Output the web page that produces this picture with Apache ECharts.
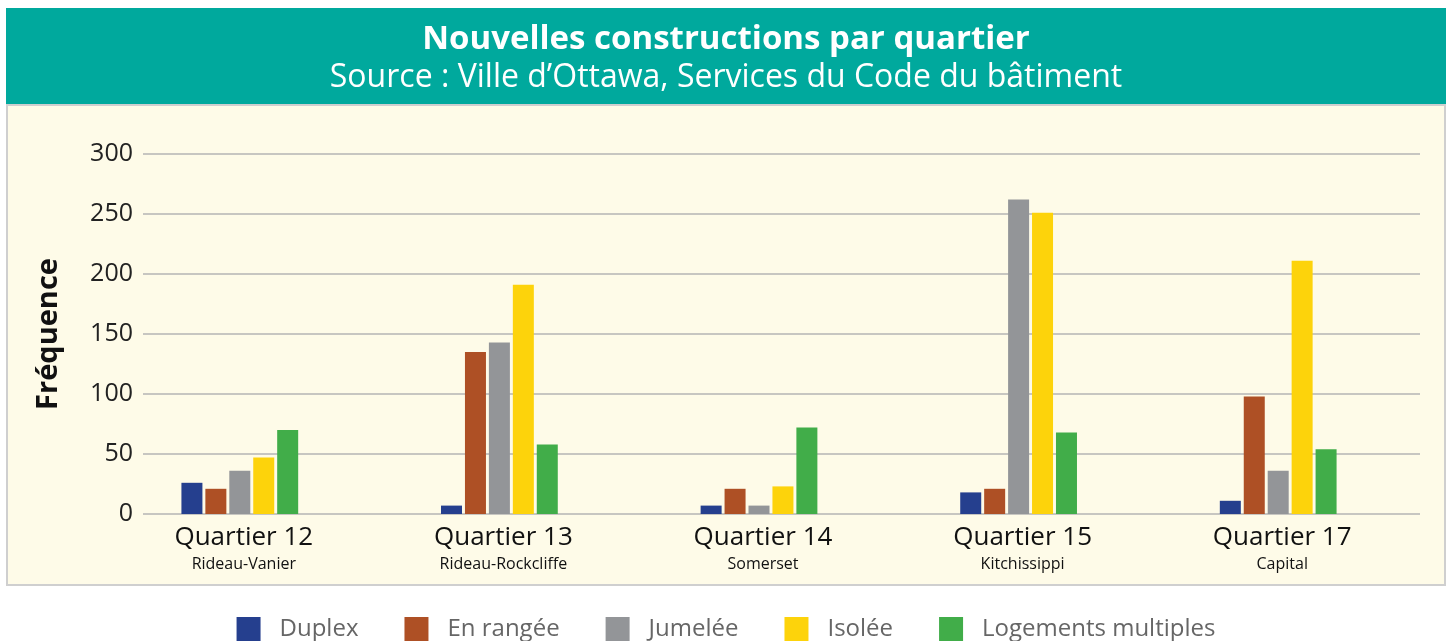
<!DOCTYPE html>
<html>
<head>
<meta charset="utf-8">
<script src="https://cdn.jsdelivr.net/npm/echarts@6/dist/echarts.min.js"></script>
<style>
  html, body { margin: 0; padding: 0; background: #fff; }
  #chart { width: 1452px; height: 641px; }
</style>
</head>
<body>
<div id="chart"></div>
<script>
// Quartiers
const quartiers = ['Quartier 12', 'Quartier 13', 'Quartier 14', 'Quartier 15', 'Quartier 17']
const quartierNoms = ['Rideau-Vanier', 'Rideau-Rockcliffe', 'Somerset', 'Kitchissippi', 'Capital']

// Valeurs
const duplex = [26, 7, 7, 18, 11]
const enRangee = [21, 135, 21, 21, 98]
const jumelee = [36, 143, 7, 262, 36]
const isolee = [47, 191, 23, 251, 211]
const logementsMultiples = [70, 58, 72, 68, 54]

const yTicks = [0, 50, 100, 150, 200, 250, 300]

const fontFamily = '"Open Sans", "Noto Sans", sans-serif'
const colors = ['#253F8E', '#AE5025', '#939598', '#FDD30B', '#41AD49']

const chart = echarts.init(document.getElementById('chart'))

function barSerie (name, data) {
  return {
    type: 'bar',
    name: name,
    xAxisIndex: 1,
    yAxisIndex: 1,
    barWidth: 21,
    barGap: '14%',
    data: data
  }
}

chart.setOption({
  animation: false,
  color: colors,
  textStyle: { fontFamily: fontFamily },
  graphic: [
    // bandeau du titre
    {
      type: 'rect',
      z: -10,
      shape: { x: 6, y: 8, width: 1440, height: 97 },
      style: { fill: '#00A99D' }
    },
    // fond du graphique
    {
      type: 'rect',
      z: -10,
      shape: { x: 7, y: 105, width: 1438, height: 480 },
      style: { fill: '#FEFBE8', stroke: '#CFCFCF', lineWidth: 2 }
    }
  ],
  title: [
    {
      text: 'Nouvelles constructions par quartier',
      left: 'center',
      top: 18,
      textStyle: { color: '#fff', fontSize: 33, fontWeight: 'bold', fontFamily: fontFamily }
    },
    {
      text: 'Source : Ville d\u2019Ottawa, Services du Code du bâtiment',
      left: 'center',
      top: 57,
      textStyle: { color: '#fff', fontSize: 32, fontWeight: 'normal', fontFamily: fontFamily }
    }
  ],
  legend: {
    top: 612,
    left: 'center',
    itemWidth: 24,
    itemHeight: 24,
    itemGap: 46,
    icon: 'rect',
    textStyle: { color: '#666', fontSize: 24, fontFamily: fontFamily, padding: [0, 0, 0, 14] },
    data: ['Duplex', 'En rangée', 'Jumelée', 'Isolée', 'Logements multiples']
  },
  grid: [
    // lignes de repère et axe Y
    { left: 143, right: 32, top: 154, bottom: 127 },
    // barres
    { left: 110, right: 44, top: 154, bottom: 127 }
  ],
  xAxis: [
    { gridIndex: 0, type: 'value', show: false, min: 0, max: 1 },
    {
      gridIndex: 1,
      type: 'category',
      data: quartiers,
      axisLine: { show: false },
      axisTick: { show: false },
      axisLabel: {
        margin: 9,
        interval: 0,
        padding: [0, 0, 0, 8],
        formatter: function (value, idx) {
          return '{q|' + value + '}\n{n|' + quartierNoms[idx] + '}'
        },
        rich: {
          q: { fontSize: 26, color: '#111', fontFamily: fontFamily, lineHeight: 30 },
          n: { fontSize: 16, color: '#111', fontFamily: fontFamily, lineHeight: 22 }
        }
      }
    }
  ],
  yAxis: [
    {
      gridIndex: 0,
      type: 'value',
      min: yTicks[0],
      max: yTicks[yTicks.length - 1],
      interval: yTicks[1] - yTicks[0],
      name: 'Fréquence',
      nameLocation: 'middle',
      nameRotate: 90,
      nameGap: 80,
      nameTextStyle: { fontSize: 29, fontWeight: 'bold', color: '#111', fontFamily: fontFamily },
      axisLine: { show: false },
      axisTick: { show: false },
      axisLabel: { fontSize: 25, color: '#222', margin: 10, fontFamily: fontFamily },
      splitLine: { lineStyle: { color: '#B4B4B4', width: 1.5 } }
    },
    {
      gridIndex: 1,
      type: 'value',
      show: false,
      min: yTicks[0],
      max: yTicks[yTicks.length - 1]
    }
  ],
  series: [
    barSerie('Duplex', duplex),
    barSerie('En rangée', enRangee),
    barSerie('Jumelée', jumelee),
    barSerie('Isolée', isolee),
    barSerie('Logements multiples', logementsMultiples)
  ]
})
</script>
</body>
</html>
